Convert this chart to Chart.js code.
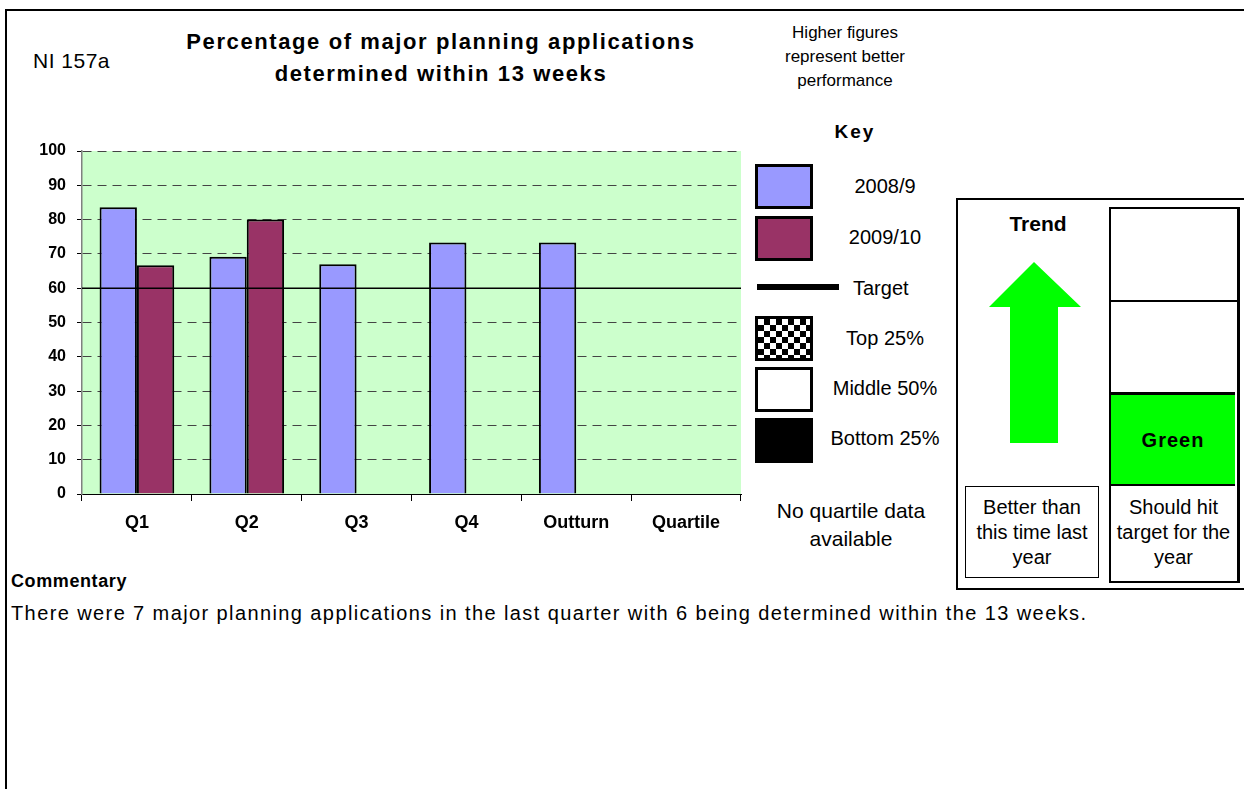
<!DOCTYPE html>
<html>
<head>
<meta charset="utf-8">
<script src="https://cdn.jsdelivr.net/npm/chart.js@4"></script>
<style>
  body { margin: 0; width: 1244px; height: 789px; overflow: hidden; background: #fff;
         font-family: "Liberation Sans", Arial, sans-serif; color: #000; position: relative; }
  .abs { position: absolute; }
  .frame { left: 5px; top: 9px; width: 1260px; height: 800px; border: 2px solid #000; }
  .c { text-align: center; }
  .sw { position: absolute; left: 755px; width: 52px; height: 39px; border: 3px solid #000; }
  .lab { position: absolute; left: 820px; width: 130px; text-align: center; font-size: 20px; line-height: 24px; }
  #chartBox { position: absolute; left: 0; top: 130px; width: 760px; height: 420px; }
</style>
</head>
<body>
<div class="abs frame"></div>

<div class="abs" style="left:33px; top:47px; font-size:21px; line-height:28px; letter-spacing:0.5px;">NI 157a</div>
<div class="abs c" style="left:141px; top:26px; width:600px; font-size:22px; font-weight:bold; line-height:32px; letter-spacing:1.6px;">
  Percentage of major planning applications<br>determined within 13 weeks
</div>
<div class="abs c" style="left:745px; top:21px; width:200px; font-size:17px; line-height:24px;">
  Higher figures<br>represent better<br>performance
</div>
<div class="abs c" style="left:805px; top:120px; width:100px; font-size:19px; font-weight:bold; line-height:24px; letter-spacing:2px;">Key</div>

<!-- key -->
<div class="sw" style="top:164px; background:#9999FF;"></div>
<div class="lab" style="top:174px;">2008/9</div>
<div class="sw" style="top:216px; background:#993366;"></div>
<div class="lab" style="top:225px;">2009/10</div>
<div class="abs" style="left:757px; top:284px; width:82px; height:6px; background:#000;"></div>
<div class="abs" style="left:853px; top:276px; font-size:20px; line-height:24px;">Target</div>
<div class="sw" style="top:316px; background:repeating-conic-gradient(#000 0% 25%, #fff 0% 50%) 0 0/12px 12px;"></div>
<div class="lab" style="top:326px;">Top 25%</div>
<div class="sw" style="top:367px; background:#fff;"></div>
<div class="lab" style="top:376px;">Middle 50%</div>
<div class="sw" style="top:418px; background:#000;"></div>
<div class="lab" style="top:426px;">Bottom 25%</div>

<div class="abs c" style="left:751px; top:497px; width:200px; font-size:21px; line-height:28px;">
  No quartile data<br>available
</div>

<!-- trend / target panel -->
<div class="abs" style="left:956px; top:198px; width:300px; height:388px; border:2px solid #000;"></div>
<div class="abs c" style="left:983px; top:212px; width:110px; font-size:21px; font-weight:bold; line-height:24px;">Trend</div>
<svg class="abs" style="left:980px; top:255px;" width="110" height="195">
  <polygon points="54,7 101,52 78,52 78,188 30,188 30,52 9,52" fill="#00FF00"/>
</svg>
<div class="abs c" style="left:965px; top:486px; width:134px; height:92px; border:1.5px solid #000; font-size:20px; line-height:25px; padding-top:8px; box-sizing:border-box;">
  Better than<br>this time last<br>year
</div>
<div class="abs" style="left:1109px; top:207px; width:126px; height:372px; border:2px solid #000; border-right-width:3px;"></div>
<div class="abs" style="left:1109px; top:300px; width:129px; height:2px; background:#000;"></div>
<div class="abs c" style="left:1111px; top:392px; width:124px; height:94px; background:#00FF00; border-top:3px solid #000; border-bottom:2px solid #000; box-sizing:border-box; font-size:20px; font-weight:bold; line-height:90px; letter-spacing:1px;">Green</div>
<div class="abs c" style="left:1109px; top:488px; width:129px; font-size:20px; line-height:25px; padding-top:7px;">
  Should hit<br>target for the<br>year
</div>

<div class="abs" style="left:11px; top:569px; font-size:18px; font-weight:bold; line-height:24px; letter-spacing:0.6px;">Commentary</div>
<div class="abs" style="left:11px; top:601px; font-size:20px; line-height:24px; letter-spacing:1.4px; white-space:nowrap;">There were 7 major planning applications in the last quarter with 6 being determined within the 13 weeks.</div>

<div id="chartBox"><canvas id="myBarChart" width="760" height="420"></canvas></div>

<script>
const categories = ["Q1", "Q2", "Q3", "Q4", "Outturn", "Quartile"];
const values2008 = [83.6, 69.2, 67, 73.3, 73.3, null];
const values2009 = [66.7, 80, null, null, null, null];
const targetValue = 60;

Chart.defaults.font.family = '"Liberation Sans", Arial, sans-serif';
Chart.defaults.color = "#000";

// green plot background + target line
const plotExtras = {
  id: "plotExtras",
  beforeDraw: function (chart) {
    const a = chart.chartArea;
    const ctx = chart.ctx;
    ctx.save();
    ctx.fillStyle = "#CCFFCC";
    ctx.fillRect(a.left, a.top, a.right - a.left, a.bottom - a.top);
    ctx.restore();
  },
  afterDatasetsDraw: function (chart) {
    const a = chart.chartArea;
    const ctx = chart.ctx;
    const y = chart.scales.y.getPixelForValue(targetValue);
    ctx.save();
    ctx.strokeStyle = "#000";
    ctx.lineWidth = 1.5;
    ctx.beginPath();
    ctx.moveTo(a.left, y);
    ctx.lineTo(a.right, y);
    ctx.stroke();
    ctx.restore();
  },
};

const ctx = document.getElementById("myBarChart").getContext("2d");
const myChart = new Chart(ctx, {
  type: "bar",
  data: {
    labels: categories,
    datasets: [
      {
        label: "2008/9",
        data: values2008,
        backgroundColor: "#9999FF",
        borderColor: "#000",
        borderWidth: 2,
      },
      {
        label: "2009/10",
        data: values2009,
        backgroundColor: "#993366",
        borderColor: "#000",
        borderWidth: 2,
      },
    ],
  },
  options: {
    responsive: false,
    animation: false,
    devicePixelRatio: 1,
    layout: { padding: { top: 21, right: 19, left: 0, bottom: 0 } },
    datasets: { bar: { barPercentage: 1, categoryPercentage: 0.68 } },
    plugins: { legend: { display: false }, tooltip: { enabled: false } },
    scales: {
      x: {
        grid: { offset: true, drawOnChartArea: false, drawTicks: true, tickLength: 7, color: "#000" },
        border: { color: "#000", width: 1 },
        ticks: { font: { size: 18, weight: "bold" }, padding: 11, maxRotation: 0 },
        afterFit: function (s) { s.height = 56; },
      },
      y: {
        min: 0,
        max: 100,
        ticks: { stepSize: 10, font: { size: 16, weight: "bold" }, padding: 11 },
        grid: { color: "#444", lineWidth: 1, tickLength: 5, tickColor: "#000" },
        border: { color: "#808080", width: 1.5, dash: [9, 6] },
        afterFit: function (s) { s.width = 82; },
      },
    },
  },
  plugins: [plotExtras],
});
</script>
</body>
</html>
